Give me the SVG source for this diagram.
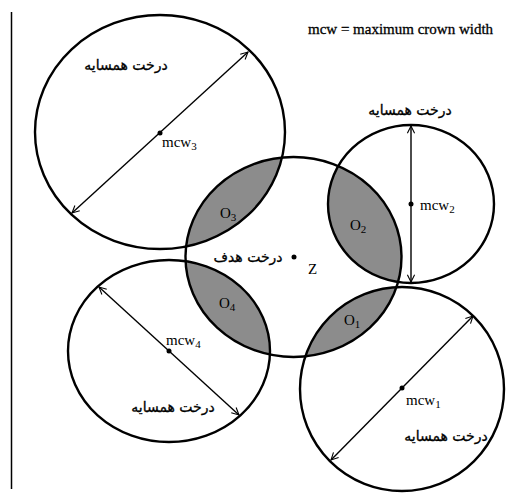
<svg xmlns="http://www.w3.org/2000/svg" width="512" height="498" viewBox="0 0 512 498">
<style>
.c{fill:none;stroke:#000;stroke-width:2.4}
.a{stroke:#000;stroke-width:1.4;marker-start:url(#ah);marker-end:url(#ah)}
.en{font-family:"Liberation Serif",serif;fill:#000}
.ar{font-family:"DejaVu Sans",sans-serif;font-size:14px;fill:#000;text-anchor:middle;stroke:#000;stroke-width:0.3}
</style>
<defs>
<marker id="ah" viewBox="0 0 10 10" refX="9" refY="5" markerWidth="9" markerHeight="9" markerUnits="userSpaceOnUse" orient="auto-start-reverse">
<path d="M1,1 L9,5 L1,9" fill="none" stroke="#000" stroke-width="1.2"/>
</marker>
<clipPath id="cz"><ellipse cx="293.5" cy="257" rx="108" ry="100"/></clipPath>
</defs>
<rect width="512" height="498" fill="#fff"/>
<line x1="11.5" y1="12" x2="11.5" y2="489" stroke="#000" stroke-width="1.5"/>
<text class="en" x="308" y="34" font-size="15" stroke="#000" stroke-width="0.3">mcw = maximum crown width</text>
<g id="overlaps" clip-path="url(#cz)" fill="#8c8c8c">
<ellipse cx="160" cy="132" rx="125" ry="117"/>
<ellipse cx="411" cy="204" rx="83" ry="79"/>
<ellipse cx="402" cy="389" rx="102" ry="102"/>
<ellipse cx="169" cy="351" rx="101" ry="91"/>
</g>
<g id="target">
<ellipse class="c" cx="293.5" cy="257" rx="108" ry="100"/>
<circle cx="294" cy="257" r="2.5"/>
<text class="ar" x="248" y="262">درخت  هدف</text>
<text class="en" x="308" y="274" font-size="15">Z</text>
</g>
<g id="tree3">
<ellipse class="c" cx="160" cy="132" rx="125" ry="117"/>
<circle cx="160" cy="133" r="2.5"/>
<text class="ar" x="126" y="70">درخت همسایه</text>
<text class="en" x="162" y="147" font-size="15">mcw<tspan font-size="11" dy="3">3</tspan></text>
</g>
<g id="tree2">
<ellipse class="c" cx="411" cy="204" rx="83" ry="79"/>
<circle cx="411" cy="204" r="2.5"/>
<text class="ar" x="410" y="115">درخت همسایه</text>
<text class="en" x="420" y="210" font-size="15">mcw<tspan font-size="11" dy="3">2</tspan></text>
</g>
<g id="tree1">
<ellipse class="c" cx="402" cy="389" rx="102" ry="102"/>
<circle cx="402" cy="388" r="2.5"/>
<text class="ar" x="446" y="441">درخت همسایه</text>
<text class="en" x="406" y="405" font-size="15">mcw<tspan font-size="11" dy="3">1</tspan></text>
</g>
<g id="tree4">
<ellipse class="c" cx="169" cy="351" rx="101" ry="91"/>
<circle cx="169" cy="351" r="2.5"/>
<text class="ar" x="173" y="412">درخت همسایه</text>
<text class="en" x="166" y="345" font-size="15">mcw<tspan font-size="11" dy="3">4</tspan></text>
</g>
<g id="overlap-labels">
<text class="en" x="220" y="218" font-size="15">O<tspan font-size="11" dy="3">3</tspan></text>
<text class="en" x="350" y="230" font-size="15">O<tspan font-size="11" dy="3">2</tspan></text>
<text class="en" x="219" y="308" font-size="15">O<tspan font-size="11" dy="3">4</tspan></text>
<text class="en" x="344" y="325" font-size="15">O<tspan font-size="11" dy="3">1</tspan></text>
</g>
<g id="connectors">
<line class="a" x1="72" y1="213" x2="248" y2="52"/>
<line class="a" x1="411" y1="126" x2="411" y2="282"/>
<line class="a" x1="331" y1="460" x2="473" y2="316"/>
<line class="a" x1="99" y1="287" x2="239" y2="415"/>
</g>
</svg>
